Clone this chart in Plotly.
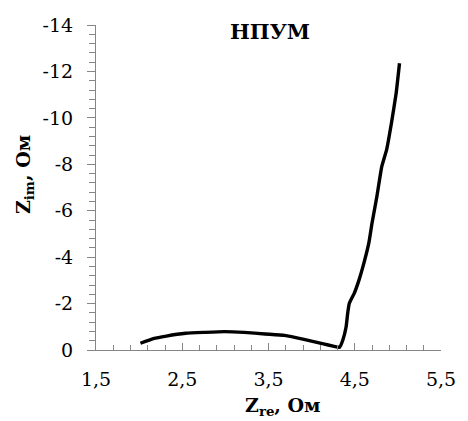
import plotly.graph_objects as go

# Nyquist data (Z_re, Z_im in Ohm)
z_re = [2.015, 2.165, 2.315, 2.54, 2.765, 2.99, 3.216, 3.46, 3.686, 3.911,
        4.137, 4.249, 4.325, 4.362, 4.40, 4.418, 4.437, 4.494, 4.55, 4.606,
        4.663, 4.70, 4.756, 4.813, 4.869, 4.925, 4.98, 5.019]
z_im = [-0.29, -0.49, -0.60, -0.72, -0.76, -0.79, -0.76, -0.69, -0.63, -0.46,
        -0.26, -0.17, -0.12, -0.43, -1.00, -1.58, -2.01, -2.44, -3.02, -3.74,
        -4.60, -5.46, -6.60, -7.90, -8.62, -9.77, -11.06, -12.35]

x_tickvals = [1.5, 2.5, 3.5, 4.5, 5.5]
x_ticktext = ["1,5", "2,5", "3,5", "4,5", "5,5"]
y_tickvals = [0, -2, -4, -6, -8, -10, -12, -14]
y_ticktext = ["0", "-2", "-4", "-6", "-8", "-10", "-12", "-14"]

title_text = "НПУМ"
x_title = "Z<sub>re</sub>, Ом"
y_title = "Z<sub>im</sub>, Ом"

FONT = "DejaVu Serif"
AX = "#868686"

fig = go.Figure()
fig.add_trace(go.Scatter(x=z_re, y=z_im, mode="lines",
                         line=dict(color="black", width=3.4, shape="spline", smoothing=0.4),
                         showlegend=False, hoverinfo="skip"))

fig.update_layout(
    width=468, height=421,
    margin=dict(l=96, r=17, t=25, b=71),
    paper_bgcolor="white", plot_bgcolor="white",
    font=dict(family=FONT, size=19, color="black"),
    showlegend=False,
)

fig.update_xaxes(
    range=[1.5, 5.5], tickmode="array", tickvals=x_tickvals, ticktext=x_ticktext,
    showgrid=False, zeroline=False, showline=True, linecolor=AX, linewidth=1,
    ticks="inside", ticklen=7, tickcolor=AX, tickwidth=1,
    ticklabelstandoff=12,
    minor=dict(tickmode="linear", tick0=1.5, dtick=0.2, ticks="inside",
               ticklen=5, tickcolor=AX, tickwidth=1, showgrid=False),
    tickfont=dict(family=FONT, size=19, color="black"),
)
fig.update_yaxes(
    range=[0, -14], tickmode="array", tickvals=y_tickvals, ticktext=y_ticktext,
    showgrid=False, zeroline=False, showline=True, linecolor=AX, linewidth=1,
    ticks="outside", ticklen=8, tickcolor=AX, tickwidth=1,
    ticklabelstandoff=10,
    minor=dict(tickmode="linear", tick0=0, dtick=0.4, ticks="outside",
               ticklen=6, tickcolor=AX, tickwidth=1, showgrid=False),
    tickfont=dict(family=FONT, size=19, color="black"),
)

fig.add_annotation(text="<b>" + title_text + "</b>", xref="paper", yref="paper",
                   x=(275 - 96) / 355, y=(350 - 32) / 325, showarrow=False,
                   xanchor="center", yanchor="middle",
                   font=dict(family=FONT, size=21, color="black"))
fig.add_annotation(text="<b>" + x_title + "</b>", xref="paper", yref="paper",
                   x=(288 - 96) / 355, y=(350 - 406) / 325, showarrow=False,
                   xanchor="center", yanchor="middle",
                   font=dict(family=FONT, size=19, color="black"))
fig.add_annotation(text="<b>" + y_title + "</b>", xref="paper", yref="paper",
                   x=(22 - 96) / 355, y=(350 - 175) / 325, showarrow=False,
                   xanchor="center", yanchor="middle", textangle=-90,
                   font=dict(family=FONT, size=19, color="black"))

fig.write_html("out.html")
